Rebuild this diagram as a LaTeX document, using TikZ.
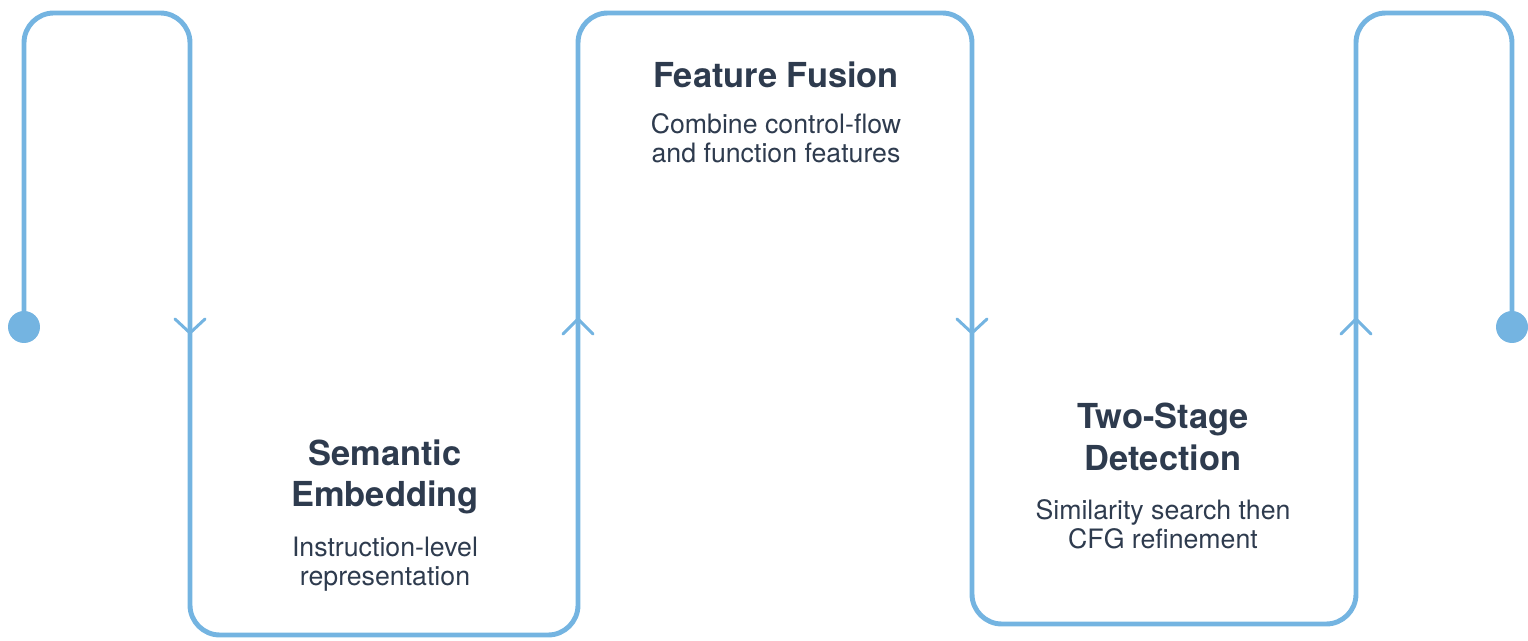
\documentclass[tikz,border=0pt]{standalone}
\usepackage{fontspec}
\setmainfont{TeX Gyre Heros}
\definecolor{flowblue}{RGB}{116,180,225}
\definecolor{inkdark}{RGB}{46,59,78}
\begin{document}
\begin{tikzpicture}[x=0.02cm,y=-0.02cm]
			\tikzset{dot/.style={circle, fill=flowblue, minimum size=0.64cm, inner sep=0},
				flow/.style={line width=2.8pt, draw=flowblue, rounded corners=17pt},
				chev/.style={line width=1.7pt, draw=flowblue, line cap=round, line join=round},
				ttl/.style={text=inkdark, align=center, font=\fontsize{19.6}{23.8}\selectfont\bfseries},
				txt/.style={text=inkdark, align=center, font=\fontsize{15.2}{16.4}\selectfont}}
			\useasboundingbox (0,0) rectangle (1528,641);

			% End points
			\node[dot] at (24,327) (src) {};
			\node[dot] at (1512,327) (snk) {};

			% The winding line
			\draw[flow] (src.center) -- (24,13) -- (190,13) -- (190,635) -- (578,635) -- (578,13)
				-- (972,13) -- (972,624) -- (1356,624) -- (1356,13) -- (1512,13) -- (snk.center);

			% Direction marks
			\coordinate (a) at (190,333);
			\coordinate (b) at (578,319);
			\coordinate (c) at (972,333);
			\coordinate (d) at (1356,319);
			\draw[chev] (a) ++(-15,-14) -- (a) -- ++(15,-14);
			\draw[chev] (b) ++(-15,15) -- (b) -- ++(15,15);
			\draw[chev] (c) ++(-15,-14) -- (c) -- ++(15,-14);
			\draw[chev] (d) ++(-15,15) -- (d) -- ++(15,15);

			% Labels
			\node[ttl] at (385,477) (semT) {Semantic\\Embedding};
			\node[txt] at (385,564) (semD) {Instruction-level\\representation};
			\node[ttl] at (776,75) (fusT) {Feature Fusion};
			\node[txt] at (776,138.5) (fusD) {Combine control-flow\\and function features};
			\node[ttl] at (1163,436.5) (detT) {Two-Stage\\Detection};
			\node[txt] at (1163,524) (detD) {Similarity search then\\CFG refinement};
		\end{tikzpicture}
\end{document}
